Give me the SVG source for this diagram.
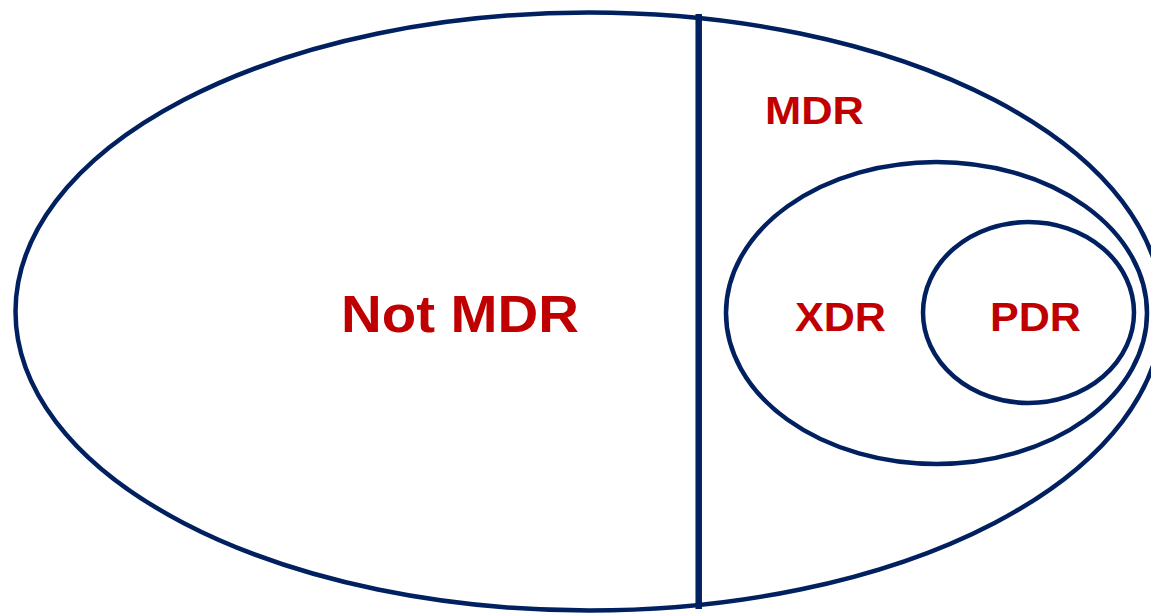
<svg xmlns="http://www.w3.org/2000/svg" width="1151" height="613" viewBox="0 0 1151 613">
<style>
.sh{fill:none;stroke:#002060;stroke-width:4.5}
.t{font-family:"Liberation Sans",Arial,sans-serif;font-weight:bold;fill:#C00000}
</style>
<rect width="1151" height="613" fill="#fff"/>
<g id="not-mdr">
<ellipse class="sh" cx="589" cy="311.5" rx="573.5" ry="299"/>
<text class="t" x="341" y="332" font-size="52" textLength="238" lengthAdjust="spacingAndGlyphs">Not MDR</text>
</g>
<g id="connectors">
<line x1="698.7" y1="14" x2="698.7" y2="609" stroke="#002060" stroke-width="6.5"/>
</g>
<g id="mdr">
<text class="t" x="765" y="123.5" font-size="39" textLength="99" lengthAdjust="spacingAndGlyphs">MDR</text>
</g>
<g id="xdr">
<ellipse class="sh" cx="936.5" cy="313" rx="210.5" ry="151"/>
<text class="t" x="795" y="331" font-size="40" textLength="91" lengthAdjust="spacingAndGlyphs">XDR</text>
</g>
<g id="pdr">
<ellipse class="sh" cx="1028.5" cy="312.5" rx="105.5" ry="90.5"/>
<text class="t" x="990" y="331" font-size="40" textLength="91" lengthAdjust="spacingAndGlyphs">PDR</text>
</g>
</svg>
